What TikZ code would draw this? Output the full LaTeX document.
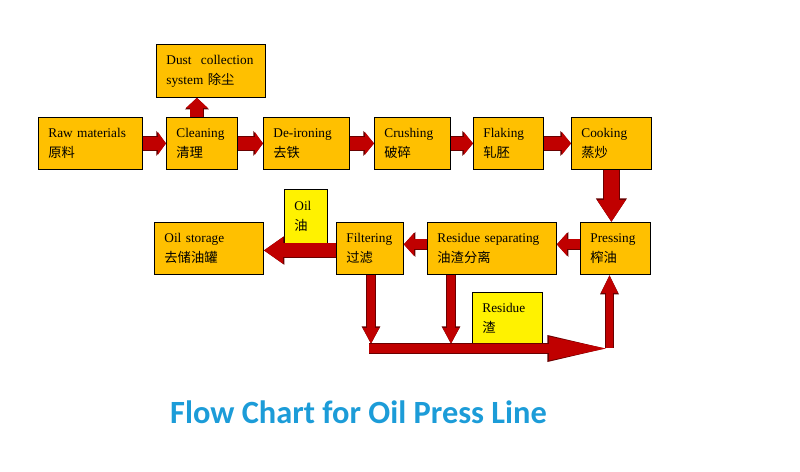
\documentclass[tikz,border=0pt]{standalone}
\usepackage{fontspec}
\setmainfont{Liberation Serif}
\newfontfamily\cjk{Noto Sans CJK SC}
\newfontfamily\titlefont{Carlito}
\usetikzlibrary{arrows.meta}
\definecolor{boxorange}{RGB}{255,192,0}
\definecolor{flowred}{RGB}{192,0,0}
\definecolor{flowdark}{RGB}{105,0,0}
\definecolor{titleblue}{RGB}{28,156,216}
\begin{document}
\begin{tikzpicture}
    [
    x=1pt, y=-1pt,
    every node/.style={font=\fontsize{13.3}{20}\selectfont},
    stepbox/.style={draw=black, line width=0.8pt, fill=boxorange, anchor=north west,
      align=left, inner xsep=10pt, inner ysep=0pt},
    notebox/.style={stepbox, fill=yellow},
    flow/.style n args={3}{draw=flowred, line width=#1, -{Triangle[width=#2,length=#3]},
      preaction={draw=flowdark, line width=#1+1.6pt, -{Triangle[width=#2+2.4pt,length=#3+1.6pt]}}},
    ]
    \useasboundingbox (0,0) rectangle (800,471);
    % top row
    \node[stepbox, minimum height=52, text width=84] (raw) at (38,117) {Raw materials\\{\cjk 原料}};
    \node[stepbox, minimum height=52, text width=51] (clean) at (166,117) {Cleaning\\{\cjk 清理}};
    \node[stepbox, minimum height=53, text width=89] (dust) at (156,44) {Dust\hspace{5pt} collection\\system {\cjk 除尘}};
    \node[stepbox, minimum height=52, text width=66] (deiron) at (263,117) {De-ironing\\{\cjk 去铁}};
    \node[stepbox, minimum height=52, text width=56] (crush) at (374,117) {Crushing\\{\cjk 破碎}};
    \node[stepbox, minimum height=52, text width=50] (flake) at (473,117) {Flaking\\{\cjk 轧胚}};
    \node[stepbox, minimum height=52, text width=60] (cook) at (571,117) {Cooking\\{\cjk 蒸炒}};
    % bottom row
    \node[stepbox, minimum height=52, text width=50] (press) at (580,222) {Pressing\\{\cjk 榨油}};
    \node[stepbox, minimum height=52, text width=109] (resid) at (427,222) {Residue separating\\{\cjk 油渣分离}};
    \node[stepbox, minimum height=52, text width=47] (filter) at (336,222) {Filtering\\{\cjk 过滤}};
    \node[stepbox, minimum height=52, text width=89] (store) at (154,222) {Oil storage\\{\cjk 去储油罐}};
    \node[notebox, minimum height=54, text width=23] (oil) at (284,189) {Oil\\{\cjk 油}};
    \node[notebox, minimum height=51, text width=50] (residue) at (472,292) {Residue\\{\cjk 渣}};
    % title
    \node[anchor=base, font=\titlefont\bfseries\fontsize{32.4}{36}\selectfont, text=titleblue] (title)
      at (358.5,423) {Flow Chart for Oil Press Line};
    % connectors
    \coordinate (cleanup) at ([xshift=-5pt]clean.north);
    \draw[flow={13}{21}{10}] (cleanup) -- (cleanup |- dust.south);
    \draw[flow={13}{22}{8}] (raw) -- (clean);
    \draw[flow={13}{22}{8}] (clean) -- (deiron);
    \draw[flow={13}{22}{9}] (deiron) -- (crush);
    \draw[flow={13}{22}{9}] (crush) -- (flake);
    \draw[flow={13}{22}{9}] (flake) -- (cook);
    \draw[flow={15}{27}{22}] (cook.south) -- (cook.south |- press.north);
    \draw[flow={10}{22}{10}] ([yshift=4pt]press.west) -- ([yshift=4pt]resid.east);
    \draw[flow={10}{22}{10}] ([yshift=4pt]resid.west) -- ([yshift=4pt]filter.east);
    \draw[flow={14}{25}{19}] ([yshift=-2pt]filter.west) -- ([yshift=-2pt]store.east);
    % residue return line
    \coordinate (drop1) at (371,344);
    \coordinate (drop2) at (451,344);
    \coordinate (lineL) at (369,348.5);
    \coordinate (lineR) at (611,348.5);
    \coordinate (rise) at (609.5,348);
    \draw[flow={8}{15}{16}] (drop1 |- filter.south) -- (drop1);
    \draw[flow={8}{15}{16}] (drop2 |- resid.south) -- (drop2);
    \draw[flow={9}{21}{62}] (lineL) -- (lineR);
    \draw[flow={7}{15}{18}] (rise) -- (rise |- press.south);
\end{tikzpicture}
\end{document}
